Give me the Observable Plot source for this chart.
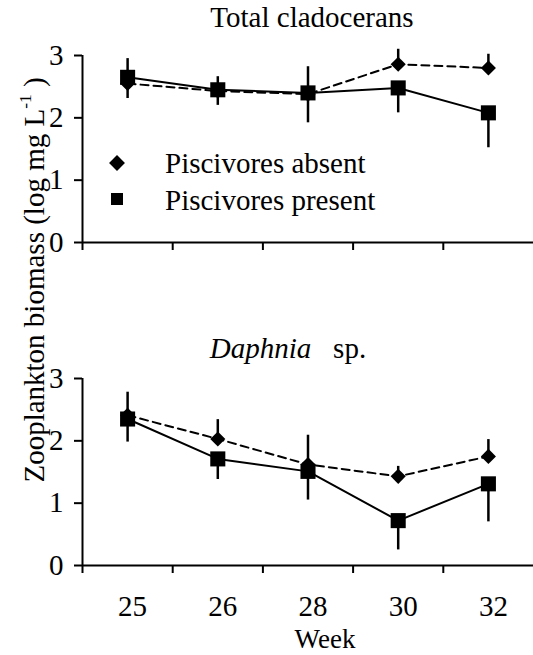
<!DOCTYPE html>
<html>
<head>
<meta charset="utf-8">
<script src="https://cdn.jsdelivr.net/npm/d3@7"></script>
<script src="https://cdn.jsdelivr.net/npm/@observablehq/plot@0.6"></script>
<style>
  html, body { margin: 0; padding: 0; background: #fff; }
  #wrap { position: relative; width: 533px; height: 655px; overflow: hidden;
          font-family: "Liberation Serif", Tinos, "Times New Roman", Times, "DejaVu Serif", serif; color: #000; }
  .txt { position: absolute; font-size: 29px; line-height: 29px; white-space: nowrap; }
  .panel { position: absolute; left: 0; }
  .panel svg { overflow: visible; }
  .panel svg text { font-family: "Liberation Serif", Tinos, "Times New Roman", Times, "DejaVu Serif", serif; }
</style>
</head>
<body>
<div id="wrap"></div>
<script>
// ---- data ----
const weeks = ["25", "26", "28", "30", "32"];
const series = ["Piscivores absent", "Piscivores present"];
const yTicks = [0, 1, 2, 3];

// Total cladocerans
const totAbsent     = [2.55, 2.43, 2.38, 2.86, 2.80];
const totAbsentHi   = [2.95, 2.66, 2.82, 3.10, 3.02];
const totPresent    = [2.65, 2.45, 2.40, 2.48, 2.08];
const totPresentLo  = [2.31, 2.20, 1.92, 2.08, 1.52];

// Daphnia sp.
const daphAbsent    = [2.41, 2.03, 1.62, 1.43, 1.75];
const daphAbsentHi  = [2.78, 2.34, 2.09, 1.59, 2.02];
const daphPresent   = [2.35, 1.71, 1.51, 0.72, 1.31];
const daphPresentLo = [1.98, 1.38, 1.05, 0.25, 0.70];

const FONT = '"Liberation Serif", Tinos, "Times New Roman", Times, "DejaVu Serif", serif';
const xDomain = [-0.5, weeks.length - 0.5];
const idx = weeks.map((_, i) => i);
const bounds = weeks.map((_, i) => i - 0.5);

function panel(absent, absentHi, present, presentLo, showLabels, height, marginBottom) {
  const rows = weeks.map((w, i) => ({
    i, week: w,
    absent: absent[i], absentHi: absentHi[i],
    present: present[i], presentLo: presentLo[i]
  }));
  const marks = [
    Plot.ruleX([xDomain[0]], {strokeWidth: 2}),
    Plot.ruleY([0], {strokeWidth: 2}),
    Plot.axisX({ticks: bounds, tickSize: 8, tickFormat: () => "", strokeWidth: 2, label: null}),
    Plot.axisY({ticks: yTicks, tickSize: 8, tickPadding: 11, tickFormat: d => String(d),
                strokeWidth: 2, fontSize: 29, label: null}),
    Plot.ruleX(rows, {x: "i", y1: "absent", y2: "absentHi", strokeWidth: 2.5}),
    Plot.ruleX(rows, {x: "i", y1: "present", y2: "presentLo", strokeWidth: 2.5}),
    Plot.line(rows, {x: "i", y: "absent", strokeWidth: 2, strokeDasharray: "8,5"}),
    Plot.line(rows, {x: "i", y: "present", strokeWidth: 2}),
    Plot.dot(rows, {x: "i", y: "absent", symbol: "diamond2", fill: "black", r: 6.8}),
    Plot.dot(rows, {x: "i", y: "present", symbol: "square", fill: "black", r: 8.5})
  ];
  if (showLabels) {
    marks.push(Plot.axisX({ticks: idx, tickFormat: i => weeks[i], tickSize: 0, tickPadding: 30,
                           dx: 5, fontSize: 29, label: null}));
  }
  return Plot.plot({
    width: 533, height,
    marginLeft: 82, marginRight: 0, marginTop: 55, marginBottom,
    x: {domain: xDomain, axis: null},
    y: {domain: [0, 3], axis: null},
    style: {fontFamily: FONT, color: "#000", background: "transparent", overflow: "visible"},
    marks
  });
}

const wrap = document.getElementById("wrap");
function place(el, top) {
  const d = document.createElement("div");
  d.className = "panel"; d.style.top = top + "px";
  d.appendChild(el); wrap.appendChild(d);
}
place(panel(totAbsent, totAbsentHi, totPresent, totPresentLo, false, 270, 28), 0);
place(panel(daphAbsent, daphAbsentHi, daphPresent, daphPresentLo, true, 332, 90), 323);

function txt(html, left, top, anchor, extra) {
  const d = document.createElement("div");
  d.className = "txt"; d.innerHTML = html;
  d.style.left = left + "px"; d.style.top = top + "px";
  d.style.transform = anchor === "middle" ? "translateX(-50%)" : "";
  if (extra) Object.assign(d.style, extra);
  wrap.appendChild(d);
  return d;
}
txt("Total cladocerans", 312, 3, "middle");
txt("<i>Daphnia</i>&nbsp;&nbsp;&nbsp;sp.", 288, 334, "middle");
txt("Week", 325, 626, "middle", {fontSize: "27px", lineHeight: "27px"});

// y label
txt("Zooplankton biomass (log mg L<span style='font-size:0.6em;vertical-align:0.7em'>-1</span> )", 30, 280, null,
  {transform: "translate(-50%,-50%) rotate(-90deg)"});

// legend
const legendY = [163, 199];
series.forEach((s, k) => {
  const sym = d3.symbol(k === 0 ? d3.symbolDiamond2 : d3.symbolSquare, k === 0 ? 160 : 144);
  const svg = d3.create("svg").attr("width", 24).attr("height", 24)
    .style("position", "absolute").style("left", (117 - 12) + "px").style("top", (legendY[k] - 12) + "px");
  svg.append("path").attr("d", sym()).attr("transform", "translate(12,12)").attr("fill", "#000");
  wrap.appendChild(svg.node());
  txt(s, 165, legendY[k] + (k === 0 ? 10 : 11) - 24, null);
});
</script>
</body>
</html>
